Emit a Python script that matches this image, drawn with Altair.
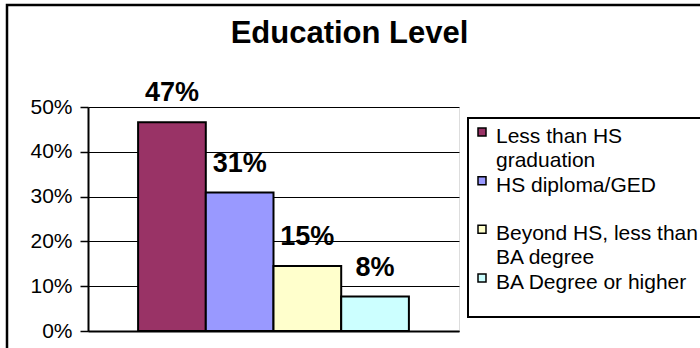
import altair as alt
import pandas as pd

categories = ["Less than HS graduation", "HS diploma/GED",
              "Beyond HS, less than BA degree", "BA Degree or higher"]
shares = [0.466, 0.309, 0.145, 0.077]
share_labels = ["47%", "31%", "15%", "8%"]
colors = ["#993366", "#9999FF", "#FFFFCC", "#CCFFFF"]
legend_line1 = ["Less than HS", "HS diploma/GED", "Beyond HS, less than", "BA Degree or higher"]
legend_line2 = ["graduation", "", "BA degree", ""]
y_ticks = [0, 0.1, 0.2, 0.3, 0.4, 0.5]

df = pd.DataFrame({"category": categories, "share": shares, "label": share_labels})
leg_df = pd.DataFrame({"category": categories, "line1": legend_line1, "line2": legend_line2})
one = pd.DataFrame({"f": [0]})

FONT = "Liberation Sans"
W, H = 371, 224

color_scale = alt.Scale(domain=categories, range=colors)

x_enc = alt.X("category:N", sort=categories,
              scale=alt.Scale(paddingInner=0, paddingOuter=0.74),
              axis=alt.Axis(title=None, labels=False, ticks=False, grid=False,
                            domainColor="black", domainWidth=2))
y_enc = alt.Y("share:Q", scale=alt.Scale(domain=[0, 0.5]),
              axis=alt.Axis(title=None, values=y_ticks, format=".0%",
                            labelFont=FONT, labelFontSize=21, labelColor="black",
                            labelPadding=8, tickColor="black", tickSize=8, tickWidth=1.5,
                            domainColor="black", domainWidth=2,
                            grid=True, gridColor="black", gridWidth=1))

bars = alt.Chart(df).mark_bar(stroke="black", strokeWidth=2).encode(
    x=x_enc,
    y=y_enc,
    color=alt.Color("category:N", sort=categories, scale=color_scale, legend=None),
)

texts = alt.Chart(df).mark_text(font=FONT, fontSize=27, fontWeight="bold",
                                baseline="middle", dy=-29, color="black").encode(
    x=alt.X("category:N", sort=categories),
    y="share:Q",
    text="label:N",
)

main = alt.layer(bars, texts)

# legend drawn from the same categories
leg_y = alt.Y("category:N", sort=categories,
              scale=alt.Scale(type="point", domain=categories, range=[25, 171], padding=0),
              axis=None)
leg_box = alt.Chart(one).mark_rect(fill="white", stroke="black", strokeWidth=2).encode(
    x=alt.value(380), x2=alt.value(640), y=alt.value(11), y2=alt.value(210))
leg_sym = alt.Chart(leg_df).mark_square(size=64, stroke="black", strokeWidth=1.5,
                                        filled=True, opacity=1).encode(
    x=alt.value(394), y=leg_y,
    color=alt.Color("category:N", sort=categories, scale=color_scale, legend=None))
leg_t1 = alt.Chart(leg_df).mark_text(font=FONT, fontSize=21, align="left",
                                     baseline="middle", dy=5, color="black").encode(
    x=alt.value(408), y=leg_y, text="line1:N")
leg_t2 = alt.Chart(leg_df).mark_text(font=FONT, fontSize=21, align="left",
                                     baseline="middle", dy=29, color="black").encode(
    x=alt.value(408), y=leg_y, text="line2:N")
legend = alt.layer(leg_box, leg_sym, leg_t1, leg_t2)

frame = alt.Chart(one).mark_rect(
    fill="white", fillOpacity=0, stroke="black", strokeWidth=2.5).encode(
    x=alt.value(-81), x2=alt.value(640), y=alt.value(-102), y2=alt.value(260))

chart = alt.layer(frame, main, legend).resolve_scale(y="independent").properties(
    width=W, height=H,
    title=alt.Title("Education Level", font=FONT, fontSize=31, fontWeight="bold",
                    anchor="middle", baseline="alphabetic", dx=76, dy=70, offset=0,
                    color="black"),
    autosize=alt.AutoSizeParams(type="none"),
    padding={"left": 88, "top": 107, "right": 241, "bottom": 17},
).configure_view(
    fill="#C0C0C0", stroke="#808080", strokeWidth=2
).configure(background="white")

chart.save("out.html", embed_options={"renderer": "svg", "actions": False})
